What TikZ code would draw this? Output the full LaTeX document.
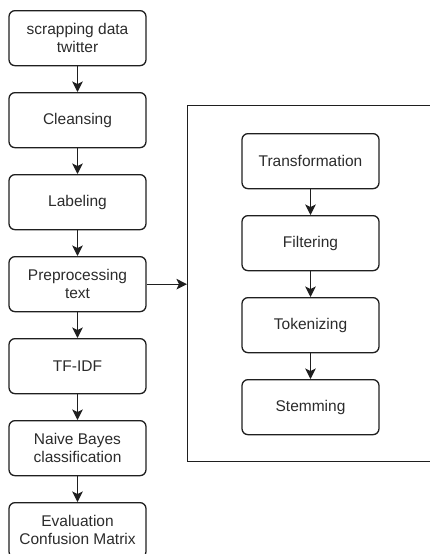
\documentclass[tikz,border=0pt]{standalone}
\usepackage{fontspec}
\setmainfont{Liberation Sans}
\usetikzlibrary{arrows.meta}
\definecolor{txt}{HTML}{2B2B2B}
\definecolor{ln}{HTML}{1F1F1F}
\tikzset{
  stepbox/.style={draw=ln, line width=1.3pt, rounded corners=6pt, minimum width=137pt, minimum height=55pt,
    inner sep=0pt, align=center, text=txt, font=\fontsize{15.5pt}{18.5pt}\selectfont, anchor=north},
  conn/.style={draw=ln, line width=1.3pt, -{Stealth[length=10.5pt,width=10.5pt,inset=2.5pt]}},
  frame/.style={draw=ln, line width=1.3pt, inner sep=0pt}
}
\begin{document}
\begin{tikzpicture}[x=1pt,y=-1pt]
\useasboundingbox (0,0) rectangle (430,554);
\clip (0,0) rectangle (430,554);
\node[frame, minimum width=250pt, minimum height=356pt, anchor=north west] (grp) at (187,105) {};
\node[stepbox] (s1) at (77.5,10) {scrapping data\\twitter};
\node[stepbox] (s2) at (77.5,92) {Cleansing};
\node[stepbox] (s3) at (77.5,174) {Labeling};
\node[stepbox] (s4) at (77.5,256) {Preprocessing\\text};
\node[stepbox] (s5) at (77.5,338) {TF-IDF};
\node[stepbox] (s6) at (77.5,420) {Naive Bayes\\classification};
\node[stepbox] (s7) at (77.5,502) {Evaluation\\Confusion Matrix};
\node[stepbox] (p1) at (310.5,133) {Transformation};
\node[stepbox] (p2) at (310.5,215) {Filtering};
\node[stepbox] (p3) at (310.5,297) {Tokenizing};
\node[stepbox] (p4) at (310.5,379) {Stemming};
\draw[conn] (s1) -- (s2);
\draw[conn] (s2) -- (s3);
\draw[conn] (s3) -- (s4);
\draw[conn] (s4) -- (s5);
\draw[conn] (s5) -- (s6);
\draw[conn] (s6) -- (s7);
\draw[conn] (p1) -- (p2);
\draw[conn] (p2) -- (p3);
\draw[conn] (p3) -- (p4);
\draw[conn] (s4.east) -- (s4.east -| grp.west);
\end{tikzpicture}
\end{document}
